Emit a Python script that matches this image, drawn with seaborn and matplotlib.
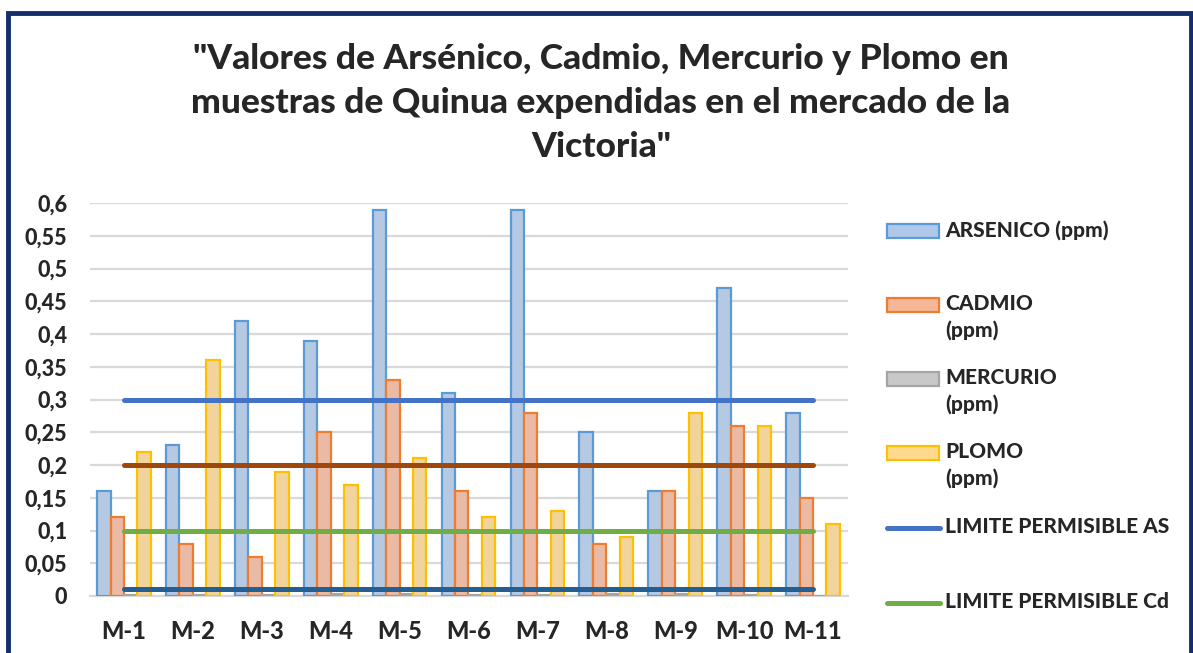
import numpy as np
import pandas as pd
import seaborn as sns
import matplotlib.pyplot as plt
import matplotlib.ticker as ticker
from matplotlib.patches import Rectangle
from matplotlib.lines import Line2D

muestras = ['M-1', 'M-2', 'M-3', 'M-4', 'M-5', 'M-6', 'M-7', 'M-8', 'M-9', 'M-10', 'M-11']
arsenico = [0.16, 0.23, 0.42, 0.39, 0.59, 0.31, 0.59, 0.25, 0.16, 0.47, 0.28]
cadmio = [0.12, 0.08, 0.06, 0.25, 0.33, 0.16, 0.28, 0.08, 0.16, 0.26, 0.15]
mercurio = [0.002, 0.002, 0.002, 0.003, 0.003, 0.002, 0.002, 0.003, 0.003, 0.002, 0.0]
plomo = [0.22, 0.36, 0.19, 0.17, 0.21, 0.12, 0.13, 0.09, 0.28, 0.26, 0.11]

limite_as = [0.3] * 11
limite_cd = [0.1] * 11
limite_pb = [0.2] * 11
limite_hg = [0.01] * 11

series = ['ARSENICO (ppm)', 'CADMIO (ppm)', 'MERCURIO (ppm)', 'PLOMO (ppm)']
relleno = ['#AFC8EA', '#F6B698', '#C8C8C8', '#FFD98E']
borde = ['#5B9BD5', '#ED7D31', '#A5A5A5', '#FFC000']

df = pd.DataFrame({'muestra': muestras, series[0]: arsenico, series[1]: cadmio,
                   series[2]: mercurio, series[3]: plomo})
df = df.melt(id_vars='muestra', var_name='metal', value_name='ppm')

sns.set_style('white')
plt.rcParams['font.family'] = ['Lato', 'DejaVu Sans']
plt.rcParams['font.weight'] = 'black'

W, H = 1193, 653
fig = plt.figure(figsize=(W / 100, H / 100), dpi=100)
ax = fig.add_axes([89.5 / W, 1 - 596 / H, (847.5 - 89.5) / W, (596 - 203) / H])

sns.barplot(data=df, x='muestra', y='ppm', hue='metal', hue_order=series,
            palette=relleno, width=0.78, ax=ax, legend=False, zorder=3)
for cont, ec in zip(ax.containers, borde):
    for b in cont:
        b.set_edgecolor(ec)
        b.set_linewidth(1.6)

x = np.arange(len(muestras))
ax.plot(x, limite_as, color='#4472C4', lw=3.6, solid_capstyle='round', zorder=4)
ax.plot(x, limite_pb, color='#9E480E', lw=3.6, solid_capstyle='round', zorder=4)
ax.plot(x, limite_cd, color='#70AD47', lw=3.6, solid_capstyle='round', zorder=4)
ax.plot(x, limite_hg, color='#255E91', lw=3.6, solid_capstyle='round', zorder=4)

ax.set_xlim(-0.5, len(muestras) - 0.5)
ax.set_ylim(0, 0.6)
ax.yaxis.set_major_locator(ticker.MultipleLocator(0.05))
ax.yaxis.set_major_formatter(ticker.FuncFormatter(lambda v, p: f'{v:.2f}'.rstrip('0').rstrip('.').replace('.', ',')))
ax.grid(axis='y', color='#D9D9D9', lw=1.6, zorder=0)
ax.set_axisbelow(True)
for s in ['top', 'right', 'left']:
    ax.spines[s].set_visible(False)
ax.spines['bottom'].set_color('#D9D9D9')
ax.spines['bottom'].set_linewidth(1.6)
ax.tick_params(axis='both', length=0)
ax.tick_params(axis='y', pad=16, labelsize=15.5)
ax.tick_params(axis='x', pad=17, labelsize=17)
for lb in ax.get_xticklabels() + ax.get_yticklabels():
    lb.set_fontweight('black')
ax.set_xlabel('')
ax.set_ylabel('')

fig.text(601 / W, 1 - 103 / H,
         '"Valores de Arsénico, Cadmio, Mercurio y Plomo en\nmuestras de Quinua expendidas en el mercado de la\nVictoria"',
         ha='center', va='center', fontsize=25.5, fontweight='black', linespacing=1.45)

# leyenda
entradas = [('bar', 0, 'ARSENICO (ppm)', 231),
            ('bar', 1, 'CADMIO\n(ppm)', 305),
            ('bar', 2, 'MERCURIO\n(ppm)', 379),
            ('bar', 3, 'PLOMO\n(ppm)', 453),
            ('line', '#4472C4', 'LIMITE PERMISIBLE AS', 528),
            ('line', '#70AD47', 'LIMITE PERMISIBLE Cd', 603)]
for tipo, c, txt, yp in entradas:
    if tipo == 'bar':
        fig.add_artist(Rectangle((887 / W, 1 - (yp + 7) / H), 52 / W, 14 / H,
                                 facecolor=relleno[c], edgecolor=borde[c], lw=1.6,
                                 transform=fig.transFigure))
    else:
        fig.add_artist(Line2D([887 / W, 940 / W], [1 - yp / H, 1 - yp / H], color=c, lw=3.6,
                              solid_capstyle='round', transform=fig.transFigure))
    fig.text(945 / W, 1 - (yp - 11) / H, txt, ha='left', va='top', fontsize=15,
             fontweight='black', linespacing=1.45)

fig.add_artist(Rectangle((8 / W, -0.05), 1183 / W, 1.05 - 13 / H, fill=False,
                         edgecolor='#132E6B', lw=3.5, transform=fig.transFigure))

fig.savefig('out.png', dpi=100)
